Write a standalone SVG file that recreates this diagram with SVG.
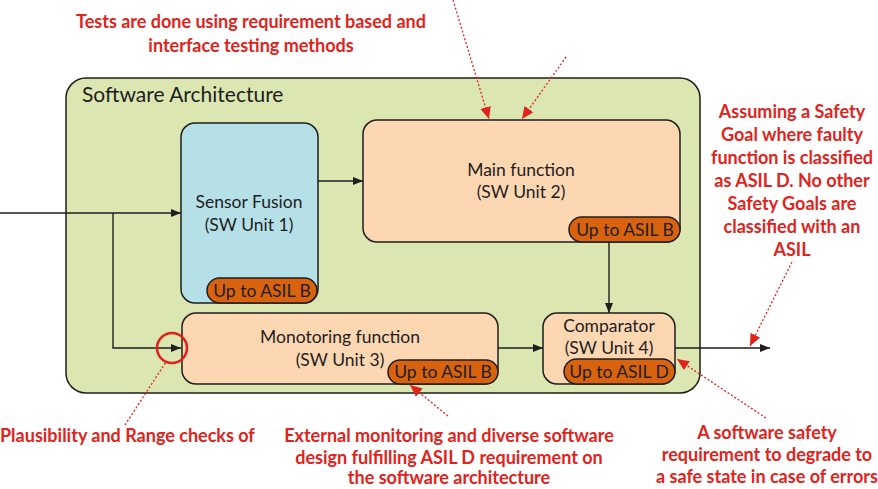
<svg xmlns="http://www.w3.org/2000/svg" width="878" height="489" viewBox="0 0 878 489">
<defs>
<style>
.box{stroke:#1e1e1e;stroke-width:1.5}
.lbl{font-family:Lato,"Liberation Sans",sans-serif;font-size:17.5px;fill:#1e1e1e;text-anchor:middle}
.badge{fill:#d9620e;stroke:#1e1e1e;stroke-width:1.5}
.note{font-family:Lato,"Liberation Sans",sans-serif;font-size:18px;font-weight:bold;fill:#e0231c;text-anchor:middle}
.wire{fill:none;stroke:#1e1e1e;stroke-width:1.4}
.dot{fill:none;stroke:#e0231c;stroke-width:1.3;stroke-dasharray:2 2}
</style>
<marker id="ah" viewBox="0 0 10 10" refX="10" refY="5" markerWidth="10" markerHeight="10" markerUnits="userSpaceOnUse" orient="auto"><path d="M0,1 L10,5 L0,9 Z" fill="#1e1e1e"/></marker>
<marker id="rh" viewBox="0 0 10 10" refX="10" refY="5" markerWidth="12" markerHeight="12" markerUnits="userSpaceOnUse" orient="auto"><path d="M0,0.5 L10,5 L0,9.5 Z" fill="#e0231c"/></marker>
</defs>
<rect width="878" height="489" fill="#ffffff"/>

<g id="container">
<rect x="66" y="78" width="634" height="315" rx="20" fill="#dce6b0" class="box"/>
<text x="82" y="102" font-family="Lato,'Liberation Sans',sans-serif" font-size="21" fill="#1e1e1e">Software Architecture</text>
</g>

<g id="sensor-fusion">
<rect x="181" y="123" width="137" height="180" rx="14" fill="#b6e0e8" class="box"/>
<text class="lbl" x="249" y="208">Sensor Fusion</text>
<text class="lbl" x="249" y="231">(SW Unit 1)</text>
<rect x="207" y="278" width="110" height="25" rx="12.5" class="badge"/>
<text class="lbl" x="262" y="297">Up to ASIL B</text>
</g>

<g id="main-function">
<rect x="363" y="120" width="317" height="122" rx="14" fill="#fdd6b2" class="box"/>
<text class="lbl" x="521" y="176">Main function</text>
<text class="lbl" x="521" y="198">(SW Unit 2)</text>
<rect x="569" y="217" width="111" height="25" rx="12.5" class="badge"/>
<text class="lbl" x="625" y="236">Up to ASIL B</text>
</g>

<g id="monitoring-function">
<rect x="182" y="313" width="316" height="71" rx="14" fill="#fdd6b2" class="box"/>
<text class="lbl" x="340" y="343">Monotoring function</text>
<text class="lbl" x="340" y="366">(SW Unit 3)</text>
<rect x="388" y="360" width="110" height="24" rx="12" class="badge"/>
<text class="lbl" x="443" y="378">Up to ASIL B</text>
</g>

<g id="comparator">
<rect x="543" y="313" width="132" height="71" rx="14" fill="#fdd6b2" class="box"/>
<text class="lbl" x="609" y="332">Comparator</text>
<text class="lbl" x="609" y="354">(SW Unit 4)</text>
<rect x="564" y="359" width="111" height="25" rx="12.5" class="badge"/>
<text class="lbl" x="619" y="378">Up to ASIL D</text>
</g>

<g id="connectors">
<path class="wire" d="M0,213 H181" marker-end="url(#ah)"/>
<path class="wire" d="M113,213 V348 H181" marker-end="url(#ah)"/>
<path class="wire" d="M318,181 H363" marker-end="url(#ah)"/>
<path class="wire" d="M609,242 V313" marker-end="url(#ah)"/>
<path class="wire" d="M498,348 H543" marker-end="url(#ah)"/>
<path class="wire" d="M675,348 H770" marker-end="url(#ah)"/>
</g>

<g id="annotations">
<circle cx="172" cy="348" r="15" fill="none" stroke="#e0231c" stroke-width="2.6"/>
<path class="dot" d="M453,0 L489,119" marker-end="url(#rh)"/>
<path class="dot" d="M566,57 L522,119" marker-end="url(#rh)"/>
<path class="dot" d="M792,262 L750,346" marker-end="url(#rh)"/>
<path class="dot" d="M125,425 L166,362"/>
<path class="dot" d="M448,416 L410,385" marker-end="url(#rh)"/>
<path class="dot" d="M766,418 L677,359" marker-end="url(#rh)"/>

<text class="note" x="251" y="28">Tests are done using requirement based and</text>
<text class="note" x="251" y="52">interface testing methods</text>

<text class="note" x="792" y="118">Assuming a Safety</text>
<text class="note" x="792" y="141">Goal where faulty</text>
<text class="note" x="792" y="164">function is classified</text>
<text class="note" x="792" y="187">as ASIL D. No other</text>
<text class="note" x="792" y="210">Safety Goals are</text>
<text class="note" x="792" y="233">classified with an</text>
<text class="note" x="792" y="256">ASIL</text>

<text class="note" x="0" y="442" style="text-anchor:start">Plausibility and Range checks of</text>

<text class="note" x="449" y="442">External monitoring and diverse software</text>
<text class="note" x="449" y="464">design fulfilling ASIL D requirement on</text>
<text class="note" x="449" y="484">the software architecture</text>

<text class="note" x="767" y="439">A software safety</text>
<text class="note" x="767" y="461">requirement to degrade to</text>
<text class="note" x="767" y="483">a safe state in case of errors</text>
</g>
</svg>
